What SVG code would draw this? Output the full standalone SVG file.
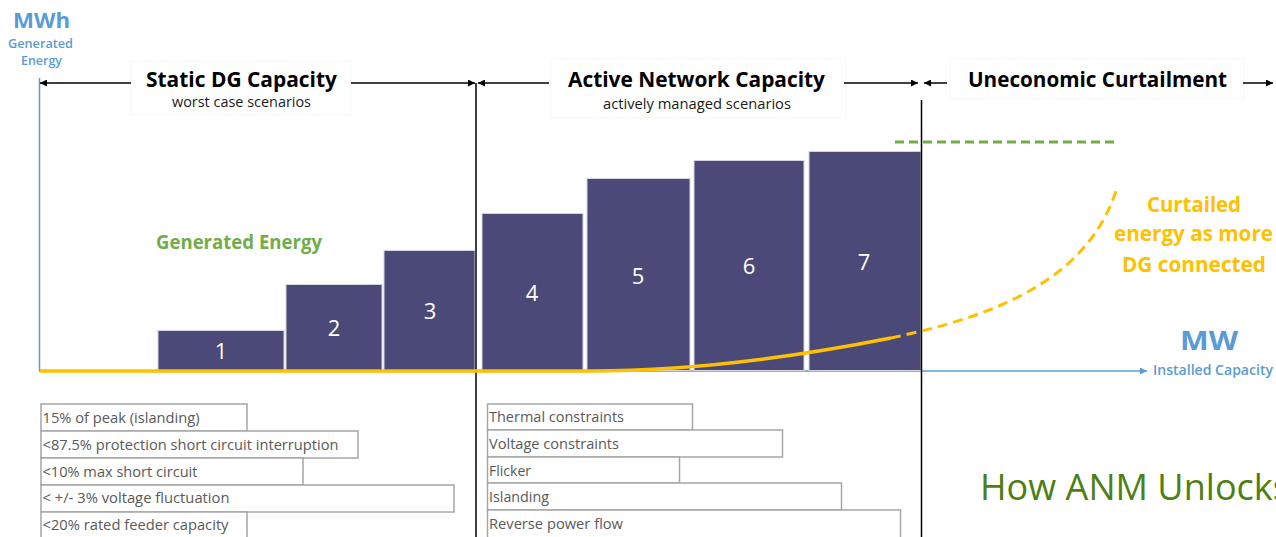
<svg xmlns="http://www.w3.org/2000/svg" width="1276" height="537" viewBox="0 0 1276 537">
<style>
  .title{font-family:"Open Sans","Noto Sans",sans-serif;font-weight:700;font-size:22px;fill:#000}
  .sub{font-family:"Open Sans","Noto Sans",sans-serif;font-size:14px;fill:#1a1a1a}
  .bar{fill:#4B4978;stroke:#D4D4E2;stroke-width:1}
  .num{font-family:"Open Sans","Noto Sans",sans-serif;font-size:22px;fill:#fff;text-anchor:middle}
  .box{fill:#fff;stroke:#A6A6A6;stroke-width:1.5}
  .ctext{font-family:"Open Sans","Noto Sans",sans-serif;font-size:14.5px;fill:#595959}
  .blue{fill:#5B9BD5;font-family:"Open Sans","Noto Sans",sans-serif}
  .orange{fill:#FFC000;font-family:"Open Sans","Noto Sans",sans-serif;font-weight:700;font-size:21px}
  .lbl{fill:#fff;stroke:#F7F7F7;stroke-width:1}
  .arr{stroke:#000;stroke-width:1.5;fill:none}
</style>
<defs>
  <marker id="ah" viewBox="0 0 10 10" refX="10" refY="5" markerWidth="8" markerHeight="7" orient="auto" markerUnits="userSpaceOnUse">
    <path d="M0,0 L10,5 L0,10 z" fill="#000"/>
  </marker>
  <marker id="ahb" viewBox="0 0 10 10" refX="10" refY="5" markerWidth="8" markerHeight="7" orient="auto" markerUnits="userSpaceOnUse">
    <path d="M0,0 L10,5 L0,10 z" fill="#5B9BD5"/>
  </marker>
</defs>
<rect width="1276" height="537" fill="#fff"/>

<g id="axis-labels">
  <text class="blue" x="13" y="28" font-size="21" font-weight="700" textLength="57" lengthAdjust="spacingAndGlyphs">MWh</text>
  <text class="blue" x="8" y="48" font-size="13" font-weight="600" textLength="65" lengthAdjust="spacingAndGlyphs">Generated</text>
  <text class="blue" x="21" y="65" font-size="13" font-weight="600" textLength="41" lengthAdjust="spacingAndGlyphs">Energy</text>
  <text class="blue" x="1180" y="350" font-size="26" font-weight="700" textLength="58" lengthAdjust="spacingAndGlyphs">MW</text>
  <text class="blue" x="1153" y="375" font-size="14" font-weight="600" textLength="120" lengthAdjust="spacingAndGlyphs">Installed Capacity</text>
</g>

<g id="static-dg">
  <rect class="lbl" x="131" y="61" width="220" height="54"/>
  <text class="title" x="146" y="87" textLength="191" lengthAdjust="spacingAndGlyphs">Static DG Capacity</text>
  <text class="sub" x="172" y="107" textLength="139" lengthAdjust="spacingAndGlyphs">worst case scenarios</text>
</g>
<g id="active-network">
  <rect class="lbl" x="551" y="59" width="295" height="59"/>
  <text class="title" x="568" y="87" textLength="257" lengthAdjust="spacingAndGlyphs">Active Network Capacity</text>
  <text class="sub" x="603" y="109" font-size="13.5" textLength="188" lengthAdjust="spacingAndGlyphs">actively managed scenarios</text>
</g>
<g id="uneconomic">
  <rect class="lbl" x="950" y="59" width="294" height="40"/>
  <text class="title" x="968" y="87" textLength="259" lengthAdjust="spacingAndGlyphs">Uneconomic Curtailment</text>
</g>

<g id="axes">
  <line x1="39.5" y1="78" x2="39.5" y2="371" stroke="#5B9BD5" stroke-width="1.5"/>
  <line x1="39" y1="371" x2="1147" y2="371" stroke="#5B9BD5" stroke-width="1.5" marker-end="url(#ahb)"/>
</g>

<g id="bars">
  <g id="bar1"><rect class="bar" x="158" y="330.5" width="126" height="40"/><text class="num" x="221" y="359">1</text></g>
  <g id="bar2"><rect class="bar" x="286" y="284.5" width="96" height="86"/><text class="num" x="334" y="336">2</text></g>
  <g id="bar3"><rect class="bar" x="384" y="250.5" width="91" height="120"/><text class="num" x="430" y="319">3</text></g>
  <g id="bar4"><rect class="bar" x="482" y="213.5" width="101" height="157"/><text class="num" x="532" y="301">4</text></g>
  <g id="bar5"><rect class="bar" x="587" y="178.5" width="103" height="192"/><text class="num" x="638" y="284">5</text></g>
  <g id="bar6"><rect class="bar" x="694" y="160.5" width="110" height="210"/><text class="num" x="749" y="274">6</text></g>
  <g id="bar7"><rect class="bar" x="809" y="151.5" width="112" height="219"/><text class="num" x="864" y="270">7</text></g>
</g>

<g id="generated-energy">
  <text x="156" y="249" font-family="Open Sans, Noto Sans, sans-serif" font-weight="700" font-size="19" fill="#70AD47" textLength="166" lengthAdjust="spacingAndGlyphs">Generated Energy</text>
</g>

<g id="connectors">
  <line x1="476" y1="83" x2="476" y2="537" stroke="#000" stroke-width="1.5"/>
  <line x1="921.5" y1="100" x2="921.5" y2="537" stroke="#000" stroke-width="1.5"/>
  <line x1="895" y1="142" x2="1119" y2="142" stroke="#70AD47" stroke-width="3" stroke-dasharray="9 5"/>
  <path d="M40,371 H590 C690,371 790,358 891,338" fill="none" stroke="#FFC000" stroke-width="3.5"/>
  <path d="M891,338 C985,318 1085,285 1116,191" fill="none" stroke="#FFC000" stroke-width="3" stroke-dasharray="10 6"/>
  <line class="arr" x1="131" y1="83" x2="40" y2="83" marker-end="url(#ah)"/>
  <line class="arr" x1="351" y1="83" x2="475" y2="83" marker-end="url(#ah)"/>
  <line class="arr" x1="549" y1="83" x2="478" y2="83" marker-end="url(#ah)"/>
  <line class="arr" x1="844" y1="83" x2="918" y2="83" marker-end="url(#ah)"/>
  <line class="arr" x1="947" y1="83" x2="924" y2="83" marker-end="url(#ah)"/>
  <line class="arr" x1="1243" y1="83" x2="1273" y2="83" marker-end="url(#ah)"/>
</g>

<g id="curtailed-label">
  <text class="orange" x="1147" y="212" textLength="94" lengthAdjust="spacingAndGlyphs">Curtailed</text>
  <text class="orange" x="1114" y="241" textLength="159" lengthAdjust="spacingAndGlyphs">energy as more</text>
  <text class="orange" x="1122" y="272" textLength="144" lengthAdjust="spacingAndGlyphs">DG connected</text>
</g>

<g id="static-constraints">
  <rect class="box" x="41" y="404" width="206" height="27"/>
  <rect class="box" x="41" y="431" width="317" height="27"/>
  <rect class="box" x="41" y="458" width="262" height="27"/>
  <rect class="box" x="41" y="485" width="413" height="27"/>
  <rect class="box" x="41" y="512" width="206" height="30"/>
  <text class="ctext" x="42.5" y="423" textLength="157" lengthAdjust="spacingAndGlyphs">15% of peak (islanding)</text>
  <text class="ctext" x="42.5" y="450" textLength="296" lengthAdjust="spacingAndGlyphs">&lt;87.5% protection short circuit interruption</text>
  <text class="ctext" x="42.5" y="477" textLength="155" lengthAdjust="spacingAndGlyphs">&lt;10% max short circuit</text>
  <text class="ctext" x="42.5" y="503" textLength="187" lengthAdjust="spacingAndGlyphs">&lt; +/- 3% voltage fluctuation</text>
  <text class="ctext" x="42.5" y="530" textLength="186" lengthAdjust="spacingAndGlyphs">&lt;20% rated feeder capacity</text>
</g>

<g id="active-constraints">
  <rect class="box" x="487.5" y="404" width="205" height="26"/>
  <rect class="box" x="487.5" y="430" width="295" height="27"/>
  <rect class="box" x="487.5" y="457" width="192" height="26"/>
  <rect class="box" x="487.5" y="483" width="354" height="27"/>
  <rect class="box" x="487.5" y="510" width="413" height="32"/>
  <text class="ctext" x="489" y="422" textLength="135" lengthAdjust="spacingAndGlyphs">Thermal constraints</text>
  <text class="ctext" x="489" y="449" textLength="130" lengthAdjust="spacingAndGlyphs">Voltage constraints</text>
  <text class="ctext" x="489" y="476" textLength="42" lengthAdjust="spacingAndGlyphs">Flicker</text>
  <text class="ctext" x="489" y="502" textLength="60" lengthAdjust="spacingAndGlyphs">Islanding</text>
  <text class="ctext" x="489" y="529" textLength="134" lengthAdjust="spacingAndGlyphs">Reverse power flow</text>
</g>

<g id="how-anm">
  <text x="980" y="500" font-family="Open Sans, Noto Sans, sans-serif" font-size="37" fill="#4E7F12" textLength="310" lengthAdjust="spacingAndGlyphs">How ANM Unlocks</text>
</g>
</svg>
